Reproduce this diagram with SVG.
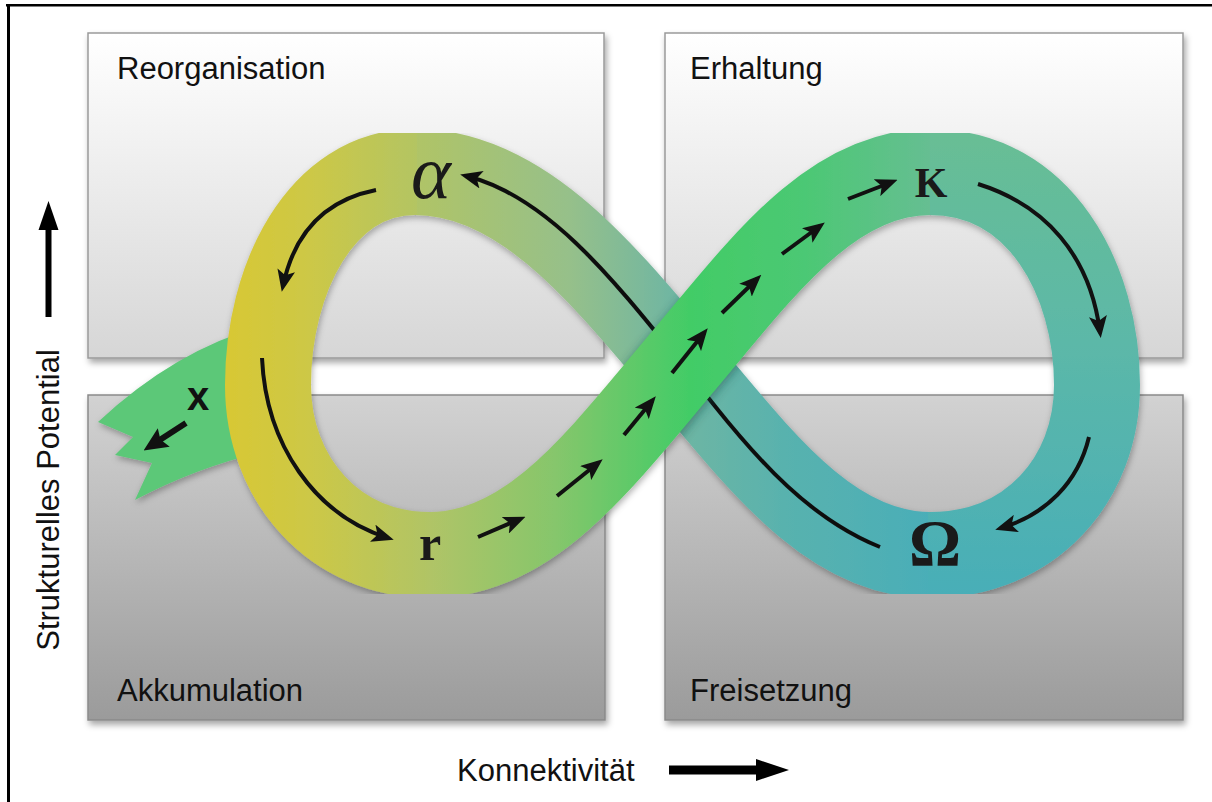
<svg xmlns="http://www.w3.org/2000/svg" width="1212" height="802" viewBox="0 0 1212 802">
  <style>
    .lbl { font-family: "Liberation Sans", Arial, sans-serif; font-size: 31px; fill: #111; }
    .xlbl { font-family: "Liberation Sans", Arial, sans-serif; font-size: 40px; font-weight: bold; fill: #111; }
    .greek { font-family: "Liberation Serif", "DejaVu Serif", serif; fill: #1a1a1a; text-anchor: middle; }
    .arr { fill: none; stroke: #111; stroke-width: 4; marker-end: url(#ah); }
    .dash { fill: none; stroke: #111; stroke-width: 4; stroke-linecap: butt; marker-end: url(#ah); }
    .rib { fill: none; stroke-width: 86; stroke-linecap: butt; }
    .panelTop { fill: url(#gTop); stroke: #9a9a9a; stroke-width: 1.5; filter: url(#pshadow); }
    .panelBot { fill: url(#gBot); stroke: #8a8a8a; stroke-width: 1.5; filter: url(#pshadow); }
  </style>
  <defs>
    <linearGradient id="gTop" x1="0" y1="0" x2="0" y2="1">
      <stop offset="0" stop-color="#ffffff"/>
      <stop offset="1" stop-color="#d6d6d6"/>
    </linearGradient>
    <linearGradient id="gBot" x1="0" y1="0" x2="0" y2="1">
      <stop offset="0" stop-color="#d2d2d2"/>
      <stop offset="1" stop-color="#9b9b9b"/>
    </linearGradient>
    <linearGradient id="gLeft" gradientUnits="userSpaceOnUse" x1="225" y1="0" x2="432" y2="0">
      <stop offset="0" stop-color="#d8c834"/>
      <stop offset="0.4" stop-color="#cdc846"/>
      <stop offset="1" stop-color="#b0c466"/>
    </linearGradient>
    <linearGradient id="gUnder" gradientUnits="userSpaceOnUse" x1="415" y1="0" x2="930" y2="0">
      <stop offset="0" stop-color="#b0c466"/>
      <stop offset="0.3" stop-color="#96c08a"/>
      <stop offset="0.5" stop-color="#70b6a2"/>
      <stop offset="0.72" stop-color="#58b2ae"/>
      <stop offset="1" stop-color="#4aaeb8"/>
    </linearGradient>
    <linearGradient id="gOver" gradientUnits="userSpaceOnUse" x1="430" y1="0" x2="930" y2="0">
      <stop offset="0" stop-color="#b0c466"/>
      <stop offset="0.25" stop-color="#86c66c"/>
      <stop offset="0.52" stop-color="#42cc66"/>
      <stop offset="0.75" stop-color="#4cc874"/>
      <stop offset="1" stop-color="#66be92"/>
    </linearGradient>
    <linearGradient id="gRight" gradientUnits="userSpaceOnUse" x1="0" y1="129" x2="0" y2="600">
      <stop offset="0" stop-color="#68be94"/>
      <stop offset="0.45" stop-color="#5cb8a8"/>
      <stop offset="1" stop-color="#48aeb8"/>
    </linearGradient>
    <filter id="pshadow" x="-5%" y="-5%" width="112%" height="115%">
      <feDropShadow dx="2" dy="4" stdDeviation="3" flood-color="#000" flood-opacity="0.35"/>
    </filter>
    <filter id="rshadow" x="-10%" y="-10%" width="120%" height="120%">
      <feDropShadow dx="1" dy="3" stdDeviation="3" flood-color="#000" flood-opacity="0.3"/>
    </filter>
    <filter id="blur" x="-10%" y="-10%" width="120%" height="120%">
      <feGaussianBlur stdDeviation="4"/>
    </filter>
    <mask id="mUnder" maskUnits="userSpaceOnUse" x="0" y="0" width="1212" height="802">
      <path d="M930,555 C830,555 760,460 680,365 C600,270 520,172 415,172" fill="none" stroke="#fff" stroke-width="86"/>
    </mask>
    <marker id="ah" markerUnits="userSpaceOnUse" markerWidth="22" markerHeight="18" refX="16" refY="9" orient="auto">
      <path d="M0,0 L22,9 L0,18 L5,9 Z" fill="#111"/>
    </marker>
    <marker id="ahx" markerUnits="userSpaceOnUse" markerWidth="24" markerHeight="22" refX="14" refY="11" orient="auto">
      <path d="M0,0 L24,11 L0,22 L4,11 Z" fill="#111"/>
    </marker>
  </defs>

  <rect x="0" y="0" width="1212" height="802" fill="#ffffff"/>

  <!-- frame -->
  <line x1="6" y1="5.3" x2="1212" y2="5.3" stroke="#000" stroke-width="2.6"/>
  <line x1="8.5" y1="4" x2="8.5" y2="802" stroke="#000" stroke-width="3"/>

  <!-- panels -->
  <g id="panel-reorganisation">
    <rect class="panelTop" x="88" y="33" width="516" height="325"/>
    <text class="lbl" x="117" y="79">Reorganisation</text>
  </g>
  <g id="panel-erhaltung">
    <rect class="panelTop" x="665" y="33" width="518" height="325"/>
    <text class="lbl" x="690" y="79">Erhaltung</text>
  </g>
  <g id="panel-akkumulation">
    <rect class="panelBot" x="88" y="395" width="517" height="325"/>
    <text class="lbl" x="117" y="701">Akkumulation</text>
  </g>
  <g id="panel-freisetzung">
    <rect class="panelBot" x="665" y="395" width="518" height="325"/>
    <text class="lbl" x="690" y="701">Freisetzung</text>
  </g>

  <!-- axes -->
  <g id="axis-y">
    <line x1="48.5" y1="317" x2="48.5" y2="226" stroke="#000" stroke-width="6"/>
    <path d="M38.5,230 L48.5,201 L58.5,230 Z" fill="#000"/>
    <text class="lbl" transform="translate(59 500) rotate(-90)" text-anchor="middle">Strukturelles Potential</text>
  </g>
  <g id="axis-x">
    <text class="lbl" x="457" y="781">Konnektivität</text>
    <line x1="669" y1="770" x2="760" y2="770" stroke="#000" stroke-width="9"/>
    <path d="M756,759 L789,770 L756,781 Z" fill="#000"/>
  </g>

  <!-- ribbon (one shadow for the whole band) -->
  <g id="ribbon" filter="url(#rshadow)">
    <g id="tail">
      <path d="M262,326 Q175,350 98,422 L133,437 L115,455 L152,463 L135,500 Q195,468 262,452 Z" fill="#5cc878"/>
    </g>
    <g id="strand-omega-alpha">
      <path class="rib" stroke="url(#gUnder)" d="M930,555 C830,555 760,460 680,365 C600,270 520,172 415,172"/>
      <path class="arr" d="M880,547 C800,515 745,445 680,362 C610,275 545,195 466,176"/>
      <g mask="url(#mUnder)">
        <path d="M520,540 C580,510 620,435 680,365 C740,295 790,230 850,195" fill="none" stroke="#1d4a44" stroke-opacity="0.45" stroke-width="88" filter="url(#blur)" transform="translate(0 3)"/>
      </g>
    </g>
    <g id="loop-right">
      <path class="rib" stroke="url(#gRight)" d="M928,172 L930,172 C1040,172 1097,280 1097,385 C1097,480 1030,555 930,555 L928,555"/>
    </g>
    <g id="loop-left">
      <path class="rib" stroke="url(#gLeft)" d="M417,172 L415,172 C320,172 268,280 268,385 C268,480 335,555 430,555 L432,555"/>
    </g>
    <g id="strand-r-K">
      <path class="rib" stroke="url(#gOver)" d="M430,555 C530,555 600,460 680,365 C760,270 830,172 930,172"/>
    </g>
  </g>

  <g id="connectors">
    <line class="dash" x1="478" y1="537" x2="520" y2="519"/>
    <line class="dash" x1="557" y1="496" x2="598" y2="463"/>
    <line class="dash" x1="624" y1="435" x2="652" y2="401"/>
    <line class="dash" x1="672" y1="373" x2="704" y2="333"/>
    <line class="dash" x1="722" y1="313" x2="757" y2="279"/>
    <line class="dash" x1="782" y1="254" x2="820" y2="226"/>
    <line class="dash" x1="848" y1="199" x2="892" y2="182"/>
    <path class="arr" d="M376,190 Q300,205 283,286"/>
    <path class="arr" d="M262,358 C266,445 315,515 388,538"/>
    <path class="arr" d="M978,184 C1045,205 1090,255 1100,332"/>
    <path class="arr" d="M1089,437 C1078,483 1045,515 1001,528"/>
    <line x1="186" y1="423" x2="152" y2="445" stroke="#111" stroke-width="6" marker-end="url(#ahx)"/>
  </g>

  <g id="node-alpha"><text class="greek" x="431" y="198" font-size="76" font-style="italic">α</text></g>
  <g id="node-r"><text class="greek" x="430" y="560" font-size="50" font-weight="bold">r</text></g>
  <g id="node-K"><text class="greek" x="931" y="197" font-size="42" font-weight="bold">K</text></g>
  <g id="node-Omega"><text class="greek" x="935" y="565" font-size="65" font-weight="bold">Ω</text></g>
  <g id="node-x"><text class="xlbl" x="198" y="410" text-anchor="middle">x</text></g>
</svg>
